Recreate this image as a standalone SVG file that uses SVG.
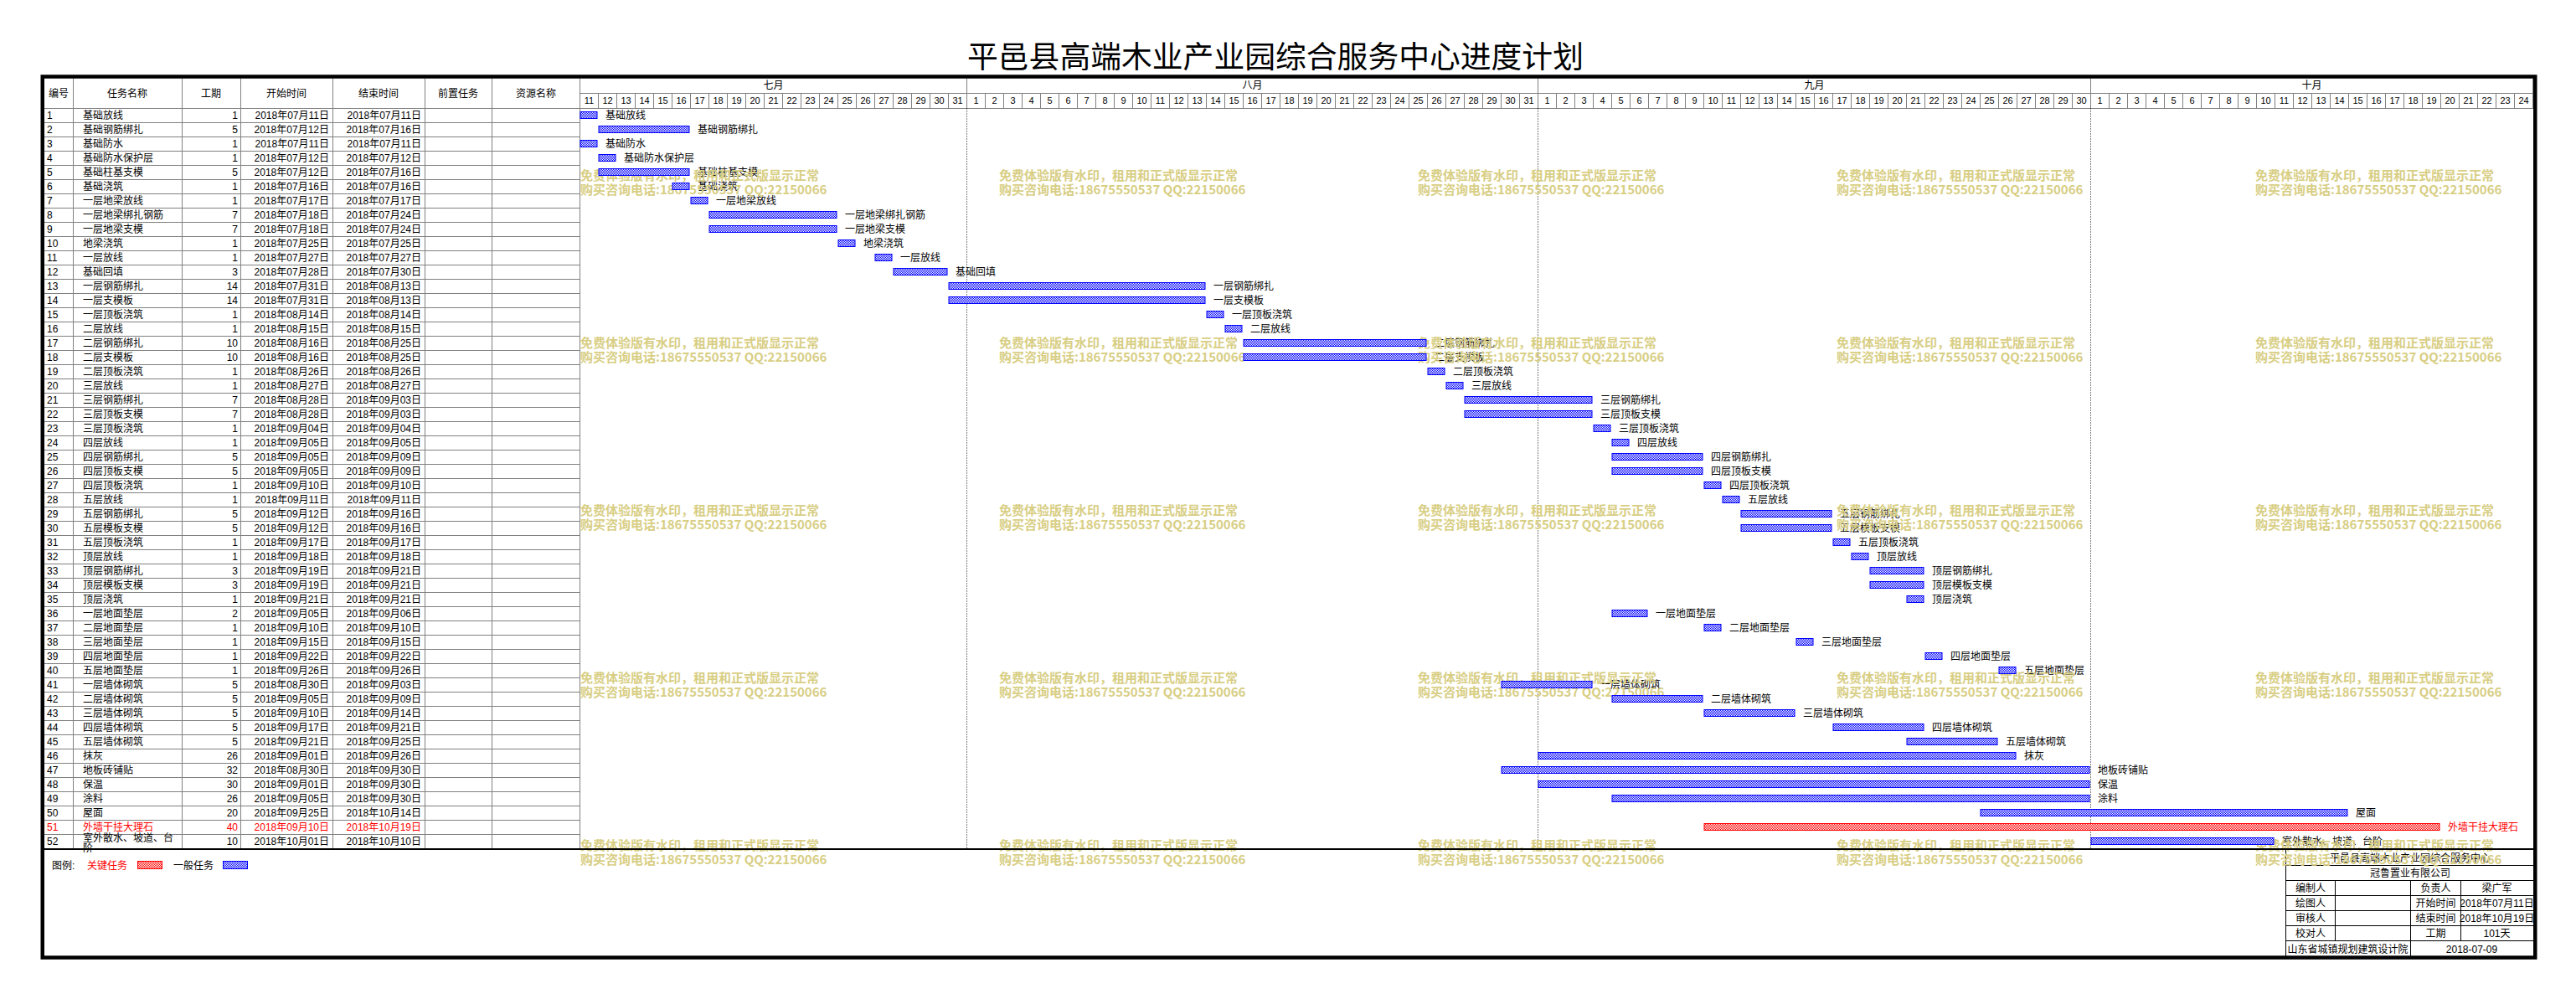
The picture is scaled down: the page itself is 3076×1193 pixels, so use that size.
<svg xmlns="http://www.w3.org/2000/svg" width="3076" height="1193" viewBox="0 0 3076 1193">
<defs>
<pattern id="pb" width="2" height="2" patternUnits="userSpaceOnUse"><rect width="2" height="2" fill="#fff"/><rect width="1" height="1" fill="#00f"/><rect x="1" y="1" width="1" height="1" fill="#00f"/></pattern>
<pattern id="pr" width="2" height="2" patternUnits="userSpaceOnUse"><rect width="2" height="2" fill="#fff"/><rect width="1" height="1" fill="#f00"/><rect x="1" y="1" width="1" height="1" fill="#f00"/></pattern>
<pattern id="dayline" x="692" y="0" width="22" height="18" patternUnits="userSpaceOnUse"><rect width="1" height="18" fill="#808080"/></pattern>
<style>
text{font-family:"Liberation Sans","Noto Sans CJK SC",sans-serif;font-size:12px;fill:#000}
.e{text-anchor:end}
.m{text-anchor:middle}
.n text{font-size:11px;text-anchor:middle}
.rd text{fill:#f00}
.g{stroke:#808080;stroke-width:1;fill:none}
.b{fill:url(#pb);stroke:#00f;stroke-width:1}
.k{fill:url(#pr);stroke:#f00;stroke-width:1}
.wm text{font-family:"Noto Sans CJK SC",sans-serif;font-size:15px;font-weight:700;fill:#d8ce84}
.mo{stroke:#000;stroke-width:1;stroke-dasharray:1 2;fill:none}
</style>
</defs>
<rect width="3076" height="1193" fill="#fff"/>
<g id="title"><text class="m" x="1523" y="81" style="font-size:36.8px">平邑县高端木业产业园综合服务中心进度计划</text></g>

<g id="table-grid">
<path class="g" d="M87.5 93.5V1013M217.5 93.5V1013M287.5 93.5V1013M397.5 93.5V1013M507.5 93.5V1013M587.5 93.5V1013M692.5 93.5V1013"/>
<path class="g" d="M53 129.5H3024.5M53 146.5H692.5M53 163.5H692.5M53 180.5H692.5M53 197.5H692.5M53 214.5H692.5M53 231.5H692.5M53 248.5H692.5M53 265.5H692.5M53 282.5H692.5M53 299.5H692.5M53 316.5H692.5M53 333.5H692.5M53 350.5H692.5M53 367.5H692.5M53 384.5H692.5M53 401.5H692.5M53 418.5H692.5M53 435.5H692.5M53 452.5H692.5M53 469.5H692.5M53 486.5H692.5M53 503.5H692.5M53 520.5H692.5M53 537.5H692.5M53 554.5H692.5M53 571.5H692.5M53 588.5H692.5M53 605.5H692.5M53 622.5H692.5M53 639.5H692.5M53 656.5H692.5M53 673.5H692.5M53 690.5H692.5M53 707.5H692.5M53 724.5H692.5M53 741.5H692.5M53 758.5H692.5M53 775.5H692.5M53 792.5H692.5M53 809.5H692.5M53 826.5H692.5M53 843.5H692.5M53 860.5H692.5M53 877.5H692.5M53 894.5H692.5M53 911.5H692.5M53 928.5H692.5M53 945.5H692.5M53 962.5H692.5M53 979.5H692.5M53 996.5H692.5"/>
<text class="m" x="70" y="116">编号</text>
<text class="m" x="152" y="116">任务名称</text>
<text class="m" x="252" y="116">工期</text>
<text class="m" x="342" y="116">开始时间</text>
<text class="m" x="452" y="116">结束时间</text>
<text class="m" x="547" y="116">前置任务</text>
<text class="m" x="640" y="116">资源名称</text>
</g>

<g id="gantt-header">
<rect x="692.5" y="111.5" width="2332" height="18" fill="url(#dayline)"/>
<path class="g" d="M692.5 111.5H3024.5M1154.5 93.5V129.5M1836.5 93.5V129.5M2496.5 93.5V129.5M3024.5 93.5V129.5"/>
<text class="m" x="923.5" y="106">七月</text>
<text class="m" x="1495.5" y="106">八月</text>
<text class="m" x="2166.5" y="106">九月</text>
<text class="m" x="2760.5" y="106">十月</text>
<g class="n">
<text x="703.5" y="124">11</text><text x="725.5" y="124">12</text><text x="747.5" y="124">13</text><text x="769.5" y="124">14</text><text x="791.5" y="124">15</text><text x="813.5" y="124">16</text><text x="835.5" y="124">17</text><text x="857.5" y="124">18</text><text x="879.5" y="124">19</text><text x="901.5" y="124">20</text><text x="923.5" y="124">21</text><text x="945.5" y="124">22</text><text x="967.5" y="124">23</text><text x="989.5" y="124">24</text><text x="1011.5" y="124">25</text><text x="1033.5" y="124">26</text><text x="1055.5" y="124">27</text><text x="1077.5" y="124">28</text><text x="1099.5" y="124">29</text><text x="1121.5" y="124">30</text><text x="1143.5" y="124">31</text>
<text x="1165.5" y="124">1</text><text x="1187.5" y="124">2</text><text x="1209.5" y="124">3</text><text x="1231.5" y="124">4</text><text x="1253.5" y="124">5</text><text x="1275.5" y="124">6</text><text x="1297.5" y="124">7</text><text x="1319.5" y="124">8</text><text x="1341.5" y="124">9</text><text x="1363.5" y="124">10</text><text x="1385.5" y="124">11</text><text x="1407.5" y="124">12</text><text x="1429.5" y="124">13</text><text x="1451.5" y="124">14</text><text x="1473.5" y="124">15</text><text x="1495.5" y="124">16</text><text x="1517.5" y="124">17</text><text x="1539.5" y="124">18</text><text x="1561.5" y="124">19</text><text x="1583.5" y="124">20</text><text x="1605.5" y="124">21</text><text x="1627.5" y="124">22</text><text x="1649.5" y="124">23</text><text x="1671.5" y="124">24</text><text x="1693.5" y="124">25</text><text x="1715.5" y="124">26</text><text x="1737.5" y="124">27</text><text x="1759.5" y="124">28</text><text x="1781.5" y="124">29</text><text x="1803.5" y="124">30</text><text x="1825.5" y="124">31</text>
<text x="1847.5" y="124">1</text><text x="1869.5" y="124">2</text><text x="1891.5" y="124">3</text><text x="1913.5" y="124">4</text><text x="1935.5" y="124">5</text><text x="1957.5" y="124">6</text><text x="1979.5" y="124">7</text><text x="2001.5" y="124">8</text><text x="2023.5" y="124">9</text><text x="2045.5" y="124">10</text><text x="2067.5" y="124">11</text><text x="2089.5" y="124">12</text><text x="2111.5" y="124">13</text><text x="2133.5" y="124">14</text><text x="2155.5" y="124">15</text><text x="2177.5" y="124">16</text><text x="2199.5" y="124">17</text><text x="2221.5" y="124">18</text><text x="2243.5" y="124">19</text><text x="2265.5" y="124">20</text><text x="2287.5" y="124">21</text><text x="2309.5" y="124">22</text><text x="2331.5" y="124">23</text><text x="2353.5" y="124">24</text><text x="2375.5" y="124">25</text><text x="2397.5" y="124">26</text><text x="2419.5" y="124">27</text><text x="2441.5" y="124">28</text><text x="2463.5" y="124">29</text><text x="2485.5" y="124">30</text>
<text x="2507.5" y="124">1</text><text x="2529.5" y="124">2</text><text x="2551.5" y="124">3</text><text x="2573.5" y="124">4</text><text x="2595.5" y="124">5</text><text x="2617.5" y="124">6</text><text x="2639.5" y="124">7</text><text x="2661.5" y="124">8</text><text x="2683.5" y="124">9</text><text x="2705.5" y="124">10</text><text x="2727.5" y="124">11</text><text x="2749.5" y="124">12</text><text x="2771.5" y="124">13</text><text x="2793.5" y="124">14</text><text x="2815.5" y="124">15</text><text x="2837.5" y="124">16</text><text x="2859.5" y="124">17</text><text x="2881.5" y="124">18</text><text x="2903.5" y="124">19</text><text x="2925.5" y="124">20</text><text x="2947.5" y="124">21</text><text x="2969.5" y="124">22</text><text x="2991.5" y="124">23</text><text x="3013.5" y="124">24</text>
</g>
<path class="mo" d="M1154.5 129.5V1013M1836.5 129.5V1013M2496.5 129.5V1013"/>
</g>

<g id="tasks">
<g id="task1"><text x="56" y="142">1</text><text x="99" y="142">基础放线</text><text class="e" x="284" y="142">1</text><text class="e" x="393" y="142">2018年07月11日</text><text class="e" x="503" y="142">2018年07月11日</text><text x="723" y="142">基础放线</text></g>
<g id="task2"><text x="56" y="159">2</text><text x="99" y="159">基础钢筋绑扎</text><text class="e" x="284" y="159">5</text><text class="e" x="393" y="159">2018年07月12日</text><text class="e" x="503" y="159">2018年07月16日</text><text x="833" y="159">基础钢筋绑扎</text></g>
<g id="task3"><text x="56" y="176">3</text><text x="99" y="176">基础防水</text><text class="e" x="284" y="176">1</text><text class="e" x="393" y="176">2018年07月11日</text><text class="e" x="503" y="176">2018年07月11日</text><text x="723" y="176">基础防水</text></g>
<g id="task4"><text x="56" y="193">4</text><text x="99" y="193">基础防水保护层</text><text class="e" x="284" y="193">1</text><text class="e" x="393" y="193">2018年07月12日</text><text class="e" x="503" y="193">2018年07月12日</text><text x="745" y="193">基础防水保护层</text></g>
<g id="task5"><text x="56" y="210">5</text><text x="99" y="210">基础柱基支模</text><text class="e" x="284" y="210">5</text><text class="e" x="393" y="210">2018年07月12日</text><text class="e" x="503" y="210">2018年07月16日</text><text x="833" y="210">基础柱基支模</text></g>
<g id="task6"><text x="56" y="227">6</text><text x="99" y="227">基础浇筑</text><text class="e" x="284" y="227">1</text><text class="e" x="393" y="227">2018年07月16日</text><text class="e" x="503" y="227">2018年07月16日</text><text x="833" y="227">基础浇筑</text></g>
<g id="task7"><text x="56" y="244">7</text><text x="99" y="244">一层地梁放线</text><text class="e" x="284" y="244">1</text><text class="e" x="393" y="244">2018年07月17日</text><text class="e" x="503" y="244">2018年07月17日</text><text x="855" y="244">一层地梁放线</text></g>
<g id="task8"><text x="56" y="261">8</text><text x="99" y="261">一层地梁绑扎钢筋</text><text class="e" x="284" y="261">7</text><text class="e" x="393" y="261">2018年07月18日</text><text class="e" x="503" y="261">2018年07月24日</text><text x="1009" y="261">一层地梁绑扎钢筋</text></g>
<g id="task9"><text x="56" y="278">9</text><text x="99" y="278">一层地梁支模</text><text class="e" x="284" y="278">7</text><text class="e" x="393" y="278">2018年07月18日</text><text class="e" x="503" y="278">2018年07月24日</text><text x="1009" y="278">一层地梁支模</text></g>
<g id="task10"><text x="56" y="295">10</text><text x="99" y="295">地梁浇筑</text><text class="e" x="284" y="295">1</text><text class="e" x="393" y="295">2018年07月25日</text><text class="e" x="503" y="295">2018年07月25日</text><text x="1031" y="295">地梁浇筑</text></g>
<g id="task11"><text x="56" y="312">11</text><text x="99" y="312">一层放线</text><text class="e" x="284" y="312">1</text><text class="e" x="393" y="312">2018年07月27日</text><text class="e" x="503" y="312">2018年07月27日</text><text x="1075" y="312">一层放线</text></g>
<g id="task12"><text x="56" y="329">12</text><text x="99" y="329">基础回填</text><text class="e" x="284" y="329">3</text><text class="e" x="393" y="329">2018年07月28日</text><text class="e" x="503" y="329">2018年07月30日</text><text x="1141" y="329">基础回填</text></g>
<g id="task13"><text x="56" y="346">13</text><text x="99" y="346">一层钢筋绑扎</text><text class="e" x="284" y="346">14</text><text class="e" x="393" y="346">2018年07月31日</text><text class="e" x="503" y="346">2018年08月13日</text><text x="1449" y="346">一层钢筋绑扎</text></g>
<g id="task14"><text x="56" y="363">14</text><text x="99" y="363">一层支模板</text><text class="e" x="284" y="363">14</text><text class="e" x="393" y="363">2018年07月31日</text><text class="e" x="503" y="363">2018年08月13日</text><text x="1449" y="363">一层支模板</text></g>
<g id="task15"><text x="56" y="380">15</text><text x="99" y="380">一层顶板浇筑</text><text class="e" x="284" y="380">1</text><text class="e" x="393" y="380">2018年08月14日</text><text class="e" x="503" y="380">2018年08月14日</text><text x="1471" y="380">一层顶板浇筑</text></g>
<g id="task16"><text x="56" y="397">16</text><text x="99" y="397">二层放线</text><text class="e" x="284" y="397">1</text><text class="e" x="393" y="397">2018年08月15日</text><text class="e" x="503" y="397">2018年08月15日</text><text x="1493" y="397">二层放线</text></g>
<g id="task17"><text x="56" y="414">17</text><text x="99" y="414">二层钢筋绑扎</text><text class="e" x="284" y="414">10</text><text class="e" x="393" y="414">2018年08月16日</text><text class="e" x="503" y="414">2018年08月25日</text><text x="1713" y="414">二层钢筋绑扎</text></g>
<g id="task18"><text x="56" y="431">18</text><text x="99" y="431">二层支模板</text><text class="e" x="284" y="431">10</text><text class="e" x="393" y="431">2018年08月16日</text><text class="e" x="503" y="431">2018年08月25日</text><text x="1713" y="431">二层支模板</text></g>
<g id="task19"><text x="56" y="448">19</text><text x="99" y="448">二层顶板浇筑</text><text class="e" x="284" y="448">1</text><text class="e" x="393" y="448">2018年08月26日</text><text class="e" x="503" y="448">2018年08月26日</text><text x="1735" y="448">二层顶板浇筑</text></g>
<g id="task20"><text x="56" y="465">20</text><text x="99" y="465">三层放线</text><text class="e" x="284" y="465">1</text><text class="e" x="393" y="465">2018年08月27日</text><text class="e" x="503" y="465">2018年08月27日</text><text x="1757" y="465">三层放线</text></g>
<g id="task21"><text x="56" y="482">21</text><text x="99" y="482">三层钢筋绑扎</text><text class="e" x="284" y="482">7</text><text class="e" x="393" y="482">2018年08月28日</text><text class="e" x="503" y="482">2018年09月03日</text><text x="1911" y="482">三层钢筋绑扎</text></g>
<g id="task22"><text x="56" y="499">22</text><text x="99" y="499">三层顶板支模</text><text class="e" x="284" y="499">7</text><text class="e" x="393" y="499">2018年08月28日</text><text class="e" x="503" y="499">2018年09月03日</text><text x="1911" y="499">三层顶板支模</text></g>
<g id="task23"><text x="56" y="516">23</text><text x="99" y="516">三层顶板浇筑</text><text class="e" x="284" y="516">1</text><text class="e" x="393" y="516">2018年09月04日</text><text class="e" x="503" y="516">2018年09月04日</text><text x="1933" y="516">三层顶板浇筑</text></g>
<g id="task24"><text x="56" y="533">24</text><text x="99" y="533">四层放线</text><text class="e" x="284" y="533">1</text><text class="e" x="393" y="533">2018年09月05日</text><text class="e" x="503" y="533">2018年09月05日</text><text x="1955" y="533">四层放线</text></g>
<g id="task25"><text x="56" y="550">25</text><text x="99" y="550">四层钢筋绑扎</text><text class="e" x="284" y="550">5</text><text class="e" x="393" y="550">2018年09月05日</text><text class="e" x="503" y="550">2018年09月09日</text><text x="2043" y="550">四层钢筋绑扎</text></g>
<g id="task26"><text x="56" y="567">26</text><text x="99" y="567">四层顶板支模</text><text class="e" x="284" y="567">5</text><text class="e" x="393" y="567">2018年09月05日</text><text class="e" x="503" y="567">2018年09月09日</text><text x="2043" y="567">四层顶板支模</text></g>
<g id="task27"><text x="56" y="584">27</text><text x="99" y="584">四层顶板浇筑</text><text class="e" x="284" y="584">1</text><text class="e" x="393" y="584">2018年09月10日</text><text class="e" x="503" y="584">2018年09月10日</text><text x="2065" y="584">四层顶板浇筑</text></g>
<g id="task28"><text x="56" y="601">28</text><text x="99" y="601">五层放线</text><text class="e" x="284" y="601">1</text><text class="e" x="393" y="601">2018年09月11日</text><text class="e" x="503" y="601">2018年09月11日</text><text x="2087" y="601">五层放线</text></g>
<g id="task29"><text x="56" y="618">29</text><text x="99" y="618">五层钢筋绑扎</text><text class="e" x="284" y="618">5</text><text class="e" x="393" y="618">2018年09月12日</text><text class="e" x="503" y="618">2018年09月16日</text><text x="2197" y="618">五层钢筋绑扎</text></g>
<g id="task30"><text x="56" y="635">30</text><text x="99" y="635">五层模板支模</text><text class="e" x="284" y="635">5</text><text class="e" x="393" y="635">2018年09月12日</text><text class="e" x="503" y="635">2018年09月16日</text><text x="2197" y="635">五层模板支模</text></g>
<g id="task31"><text x="56" y="652">31</text><text x="99" y="652">五层顶板浇筑</text><text class="e" x="284" y="652">1</text><text class="e" x="393" y="652">2018年09月17日</text><text class="e" x="503" y="652">2018年09月17日</text><text x="2219" y="652">五层顶板浇筑</text></g>
<g id="task32"><text x="56" y="669">32</text><text x="99" y="669">顶层放线</text><text class="e" x="284" y="669">1</text><text class="e" x="393" y="669">2018年09月18日</text><text class="e" x="503" y="669">2018年09月18日</text><text x="2241" y="669">顶层放线</text></g>
<g id="task33"><text x="56" y="686">33</text><text x="99" y="686">顶层钢筋绑扎</text><text class="e" x="284" y="686">3</text><text class="e" x="393" y="686">2018年09月19日</text><text class="e" x="503" y="686">2018年09月21日</text><text x="2307" y="686">顶层钢筋绑扎</text></g>
<g id="task34"><text x="56" y="703">34</text><text x="99" y="703">顶层模板支模</text><text class="e" x="284" y="703">3</text><text class="e" x="393" y="703">2018年09月19日</text><text class="e" x="503" y="703">2018年09月21日</text><text x="2307" y="703">顶层模板支模</text></g>
<g id="task35"><text x="56" y="720">35</text><text x="99" y="720">顶层浇筑</text><text class="e" x="284" y="720">1</text><text class="e" x="393" y="720">2018年09月21日</text><text class="e" x="503" y="720">2018年09月21日</text><text x="2307" y="720">顶层浇筑</text></g>
<g id="task36"><text x="56" y="737">36</text><text x="99" y="737">一层地面垫层</text><text class="e" x="284" y="737">2</text><text class="e" x="393" y="737">2018年09月05日</text><text class="e" x="503" y="737">2018年09月06日</text><text x="1977" y="737">一层地面垫层</text></g>
<g id="task37"><text x="56" y="754">37</text><text x="99" y="754">二层地面垫层</text><text class="e" x="284" y="754">1</text><text class="e" x="393" y="754">2018年09月10日</text><text class="e" x="503" y="754">2018年09月10日</text><text x="2065" y="754">二层地面垫层</text></g>
<g id="task38"><text x="56" y="771">38</text><text x="99" y="771">三层地面垫层</text><text class="e" x="284" y="771">1</text><text class="e" x="393" y="771">2018年09月15日</text><text class="e" x="503" y="771">2018年09月15日</text><text x="2175" y="771">三层地面垫层</text></g>
<g id="task39"><text x="56" y="788">39</text><text x="99" y="788">四层地面垫层</text><text class="e" x="284" y="788">1</text><text class="e" x="393" y="788">2018年09月22日</text><text class="e" x="503" y="788">2018年09月22日</text><text x="2329" y="788">四层地面垫层</text></g>
<g id="task40"><text x="56" y="805">40</text><text x="99" y="805">五层地面垫层</text><text class="e" x="284" y="805">1</text><text class="e" x="393" y="805">2018年09月26日</text><text class="e" x="503" y="805">2018年09月26日</text><text x="2417" y="805">五层地面垫层</text></g>
<g id="task41"><text x="56" y="822">41</text><text x="99" y="822">一层墙体砌筑</text><text class="e" x="284" y="822">5</text><text class="e" x="393" y="822">2018年08月30日</text><text class="e" x="503" y="822">2018年09月03日</text><text x="1911" y="822">一层墙体砌筑</text></g>
<g id="task42"><text x="56" y="839">42</text><text x="99" y="839">二层墙体砌筑</text><text class="e" x="284" y="839">5</text><text class="e" x="393" y="839">2018年09月05日</text><text class="e" x="503" y="839">2018年09月09日</text><text x="2043" y="839">二层墙体砌筑</text></g>
<g id="task43"><text x="56" y="856">43</text><text x="99" y="856">三层墙体砌筑</text><text class="e" x="284" y="856">5</text><text class="e" x="393" y="856">2018年09月10日</text><text class="e" x="503" y="856">2018年09月14日</text><text x="2153" y="856">三层墙体砌筑</text></g>
<g id="task44"><text x="56" y="873">44</text><text x="99" y="873">四层墙体砌筑</text><text class="e" x="284" y="873">5</text><text class="e" x="393" y="873">2018年09月17日</text><text class="e" x="503" y="873">2018年09月21日</text><text x="2307" y="873">四层墙体砌筑</text></g>
<g id="task45"><text x="56" y="890">45</text><text x="99" y="890">五层墙体砌筑</text><text class="e" x="284" y="890">5</text><text class="e" x="393" y="890">2018年09月21日</text><text class="e" x="503" y="890">2018年09月25日</text><text x="2395" y="890">五层墙体砌筑</text></g>
<g id="task46"><text x="56" y="907">46</text><text x="99" y="907">抹灰</text><text class="e" x="284" y="907">26</text><text class="e" x="393" y="907">2018年09月01日</text><text class="e" x="503" y="907">2018年09月26日</text><text x="2417" y="907">抹灰</text></g>
<g id="task47"><text x="56" y="924">47</text><text x="99" y="924">地板砖铺贴</text><text class="e" x="284" y="924">32</text><text class="e" x="393" y="924">2018年08月30日</text><text class="e" x="503" y="924">2018年09月30日</text><text x="2505" y="924">地板砖铺贴</text></g>
<g id="task48"><text x="56" y="941">48</text><text x="99" y="941">保温</text><text class="e" x="284" y="941">30</text><text class="e" x="393" y="941">2018年09月01日</text><text class="e" x="503" y="941">2018年09月30日</text><text x="2505" y="941">保温</text></g>
<g id="task49"><text x="56" y="958">49</text><text x="99" y="958">涂料</text><text class="e" x="284" y="958">26</text><text class="e" x="393" y="958">2018年09月05日</text><text class="e" x="503" y="958">2018年09月30日</text><text x="2505" y="958">涂料</text></g>
<g id="task50"><text x="56" y="975">50</text><text x="99" y="975">屋面</text><text class="e" x="284" y="975">20</text><text class="e" x="393" y="975">2018年09月25日</text><text class="e" x="503" y="975">2018年10月14日</text><text x="2813" y="975">屋面</text></g>
<g id="task51" class="rd"><text x="56" y="992">51</text><text x="99" y="992">外墙干挂大理石</text><text class="e" x="284" y="992">40</text><text class="e" x="393" y="992">2018年09月10日</text><text class="e" x="503" y="992">2018年10月19日</text><text x="2923" y="992">外墙干挂大理石</text></g>
<g id="task52"><text x="56" y="1009">52</text><text x="99" y="1005">室外散水、坡道、台</text><text x="99" y="1017">阶</text><text class="e" x="284" y="1009">10</text><text class="e" x="393" y="1009">2018年10月01日</text><text class="e" x="503" y="1009">2018年10月10日</text><text x="2725" y="1009">室外散水、坡道、台阶</text></g>
</g>

<g id="titleblock">
<path d="M2729.5 1014V1142M2729.5 1033.5H3025M2729.5 1051.5H3025M2729.5 1069.5H3025M2729.5 1087.5H3025M2729.5 1105.5H3025M2729.5 1123.5H3025M2788.5 1051.5V1123.5M2878.5 1051.5V1142M2938.5 1051.5V1123.5" stroke="#000" stroke-width="1" fill="none"/>
<text class="m" x="2878" y="1028.5">平邑县高端木业产业园综合服务中心</text>
<text class="m" x="2878" y="1047">冠鲁置业有限公司</text>
<text class="m" x="2759" y="1065">编制人</text><text class="m" x="2908.5" y="1065">负责人</text><text class="m" x="2981.5" y="1065">梁广军</text>
<text class="m" x="2759" y="1083">绘图人</text><text class="m" x="2908.5" y="1083">开始时间</text><text class="m" x="2981.5" y="1083">2018年07月11日</text>
<text class="m" x="2759" y="1101">审核人</text><text class="m" x="2908.5" y="1101">结束时间</text><text class="m" x="2981.5" y="1101">2018年10月19日</text>
<text class="m" x="2759" y="1119">校对人</text><text class="m" x="2908.5" y="1119">工期</text><text class="m" x="2981.5" y="1119">101天</text>
<text class="m" x="2803.5" y="1137.5">山东省城镇规划建筑设计院</text><text class="m" x="2951.5" y="1137.5">2018-07-09</text>
</g>

<g id="legend">
<text x="62" y="1038">图例:</text>
<text x="104" y="1038" style="fill:#f00">关键任务</text>
<rect class="k" x="164.5" y="1028.5" width="29" height="9"/>
<text x="207" y="1038">一般任务</text>
<rect class="b" x="266.5" y="1028.5" width="29" height="9"/>
</g>

<g id="watermark" class="wm">
<text x="693" y="214.5">免费体验版有水印，租用和正式版显示正常</text><text x="693" y="231.5">购买咨询电话:18675550537 QQ:22150066</text>
<text x="1193" y="214.5">免费体验版有水印，租用和正式版显示正常</text><text x="1193" y="231.5">购买咨询电话:18675550537 QQ:22150066</text>
<text x="1693" y="214.5">免费体验版有水印，租用和正式版显示正常</text><text x="1693" y="231.5">购买咨询电话:18675550537 QQ:22150066</text>
<text x="2193" y="214.5">免费体验版有水印，租用和正式版显示正常</text><text x="2193" y="231.5">购买咨询电话:18675550537 QQ:22150066</text>
<text x="2693" y="214.5">免费体验版有水印，租用和正式版显示正常</text><text x="2693" y="231.5">购买咨询电话:18675550537 QQ:22150066</text>
<text x="693" y="414.5">免费体验版有水印，租用和正式版显示正常</text><text x="693" y="431.5">购买咨询电话:18675550537 QQ:22150066</text>
<text x="1193" y="414.5">免费体验版有水印，租用和正式版显示正常</text><text x="1193" y="431.5">购买咨询电话:18675550537 QQ:22150066</text>
<text x="1693" y="414.5">免费体验版有水印，租用和正式版显示正常</text><text x="1693" y="431.5">购买咨询电话:18675550537 QQ:22150066</text>
<text x="2193" y="414.5">免费体验版有水印，租用和正式版显示正常</text><text x="2193" y="431.5">购买咨询电话:18675550537 QQ:22150066</text>
<text x="2693" y="414.5">免费体验版有水印，租用和正式版显示正常</text><text x="2693" y="431.5">购买咨询电话:18675550537 QQ:22150066</text>
<text x="693" y="614.5">免费体验版有水印，租用和正式版显示正常</text><text x="693" y="631.5">购买咨询电话:18675550537 QQ:22150066</text>
<text x="1193" y="614.5">免费体验版有水印，租用和正式版显示正常</text><text x="1193" y="631.5">购买咨询电话:18675550537 QQ:22150066</text>
<text x="1693" y="614.5">免费体验版有水印，租用和正式版显示正常</text><text x="1693" y="631.5">购买咨询电话:18675550537 QQ:22150066</text>
<text x="2193" y="614.5">免费体验版有水印，租用和正式版显示正常</text><text x="2193" y="631.5">购买咨询电话:18675550537 QQ:22150066</text>
<text x="2693" y="614.5">免费体验版有水印，租用和正式版显示正常</text><text x="2693" y="631.5">购买咨询电话:18675550537 QQ:22150066</text>
<text x="693" y="814.5">免费体验版有水印，租用和正式版显示正常</text><text x="693" y="831.5">购买咨询电话:18675550537 QQ:22150066</text>
<text x="1193" y="814.5">免费体验版有水印，租用和正式版显示正常</text><text x="1193" y="831.5">购买咨询电话:18675550537 QQ:22150066</text>
<text x="1693" y="814.5">免费体验版有水印，租用和正式版显示正常</text><text x="1693" y="831.5">购买咨询电话:18675550537 QQ:22150066</text>
<text x="2193" y="814.5">免费体验版有水印，租用和正式版显示正常</text><text x="2193" y="831.5">购买咨询电话:18675550537 QQ:22150066</text>
<text x="2693" y="814.5">免费体验版有水印，租用和正式版显示正常</text><text x="2693" y="831.5">购买咨询电话:18675550537 QQ:22150066</text>
<text x="693" y="1014.5">免费体验版有水印，租用和正式版显示正常</text><text x="693" y="1031.5">购买咨询电话:18675550537 QQ:22150066</text>
<text x="1193" y="1014.5">免费体验版有水印，租用和正式版显示正常</text><text x="1193" y="1031.5">购买咨询电话:18675550537 QQ:22150066</text>
<text x="1693" y="1014.5">免费体验版有水印，租用和正式版显示正常</text><text x="1693" y="1031.5">购买咨询电话:18675550537 QQ:22150066</text>
<text x="2193" y="1014.5">免费体验版有水印，租用和正式版显示正常</text><text x="2193" y="1031.5">购买咨询电话:18675550537 QQ:22150066</text>
<text x="2693" y="1014.5">免费体验版有水印，租用和正式版显示正常</text><text x="2693" y="1031.5">购买咨询电话:18675550537 QQ:22150066</text>
</g>

<g id="bars">
<rect id="bar1" class="b" x="693" y="133.5" width="20" height="8"/>
<rect id="bar2" class="b" x="715" y="150.5" width="108" height="8"/>
<rect id="bar3" class="b" x="693" y="167.5" width="20" height="8"/>
<rect id="bar4" class="b" x="715" y="184.5" width="20" height="8"/>
<rect id="bar5" class="b" x="715" y="201.5" width="108" height="8"/>
<rect id="bar6" class="b" x="803" y="218.5" width="20" height="8"/>
<rect id="bar7" class="b" x="825" y="235.5" width="20" height="8"/>
<rect id="bar8" class="b" x="847" y="252.5" width="152" height="8"/>
<rect id="bar9" class="b" x="847" y="269.5" width="152" height="8"/>
<rect id="bar10" class="b" x="1001" y="286.5" width="20" height="8"/>
<rect id="bar11" class="b" x="1045" y="303.5" width="20" height="8"/>
<rect id="bar12" class="b" x="1067" y="320.5" width="64" height="8"/>
<rect id="bar13" class="b" x="1133" y="337.5" width="306" height="8"/>
<rect id="bar14" class="b" x="1133" y="354.5" width="306" height="8"/>
<rect id="bar15" class="b" x="1441" y="371.5" width="20" height="8"/>
<rect id="bar16" class="b" x="1463" y="388.5" width="20" height="8"/>
<rect id="bar17" class="b" x="1485" y="405.5" width="218" height="8"/>
<rect id="bar18" class="b" x="1485" y="422.5" width="218" height="8"/>
<rect id="bar19" class="b" x="1705" y="439.5" width="20" height="8"/>
<rect id="bar20" class="b" x="1727" y="456.5" width="20" height="8"/>
<rect id="bar21" class="b" x="1749" y="473.5" width="152" height="8"/>
<rect id="bar22" class="b" x="1749" y="490.5" width="152" height="8"/>
<rect id="bar23" class="b" x="1903" y="507.5" width="20" height="8"/>
<rect id="bar24" class="b" x="1925" y="524.5" width="20" height="8"/>
<rect id="bar25" class="b" x="1925" y="541.5" width="108" height="8"/>
<rect id="bar26" class="b" x="1925" y="558.5" width="108" height="8"/>
<rect id="bar27" class="b" x="2035" y="575.5" width="20" height="8"/>
<rect id="bar28" class="b" x="2057" y="592.5" width="20" height="8"/>
<rect id="bar29" class="b" x="2079" y="609.5" width="108" height="8"/>
<rect id="bar30" class="b" x="2079" y="626.5" width="108" height="8"/>
<rect id="bar31" class="b" x="2189" y="643.5" width="20" height="8"/>
<rect id="bar32" class="b" x="2211" y="660.5" width="20" height="8"/>
<rect id="bar33" class="b" x="2233" y="677.5" width="64" height="8"/>
<rect id="bar34" class="b" x="2233" y="694.5" width="64" height="8"/>
<rect id="bar35" class="b" x="2277" y="711.5" width="20" height="8"/>
<rect id="bar36" class="b" x="1925" y="728.5" width="42" height="8"/>
<rect id="bar37" class="b" x="2035" y="745.5" width="20" height="8"/>
<rect id="bar38" class="b" x="2145" y="762.5" width="20" height="8"/>
<rect id="bar39" class="b" x="2299" y="779.5" width="20" height="8"/>
<rect id="bar40" class="b" x="2387" y="796.5" width="20" height="8"/>
<rect id="bar41" class="b" x="1793" y="813.5" width="108" height="8"/>
<rect id="bar42" class="b" x="1925" y="830.5" width="108" height="8"/>
<rect id="bar43" class="b" x="2035" y="847.5" width="108" height="8"/>
<rect id="bar44" class="b" x="2189" y="864.5" width="108" height="8"/>
<rect id="bar45" class="b" x="2277" y="881.5" width="108" height="8"/>
<rect id="bar46" class="b" x="1837" y="898.5" width="570" height="8"/>
<rect id="bar47" class="b" x="1793" y="915.5" width="702" height="8"/>
<rect id="bar48" class="b" x="1837" y="932.5" width="658" height="8"/>
<rect id="bar49" class="b" x="1925" y="949.5" width="570" height="8"/>
<rect id="bar50" class="b" x="2365" y="966.5" width="438" height="8"/>
<rect id="bar51" class="k" x="2035" y="983.5" width="878" height="8"/>
<rect id="bar52" class="b" x="2497" y="1000.5" width="218" height="8"/>
</g>

<g id="connectors"/>

<g id="frame">
<path d="M51 1014H3025" stroke="#000" stroke-width="2" fill="none"/>
<rect x="50.75" y="91.5" width="2976.5" height="1052" fill="none" stroke="#000" stroke-width="4.5"/>
</g>
</svg>
